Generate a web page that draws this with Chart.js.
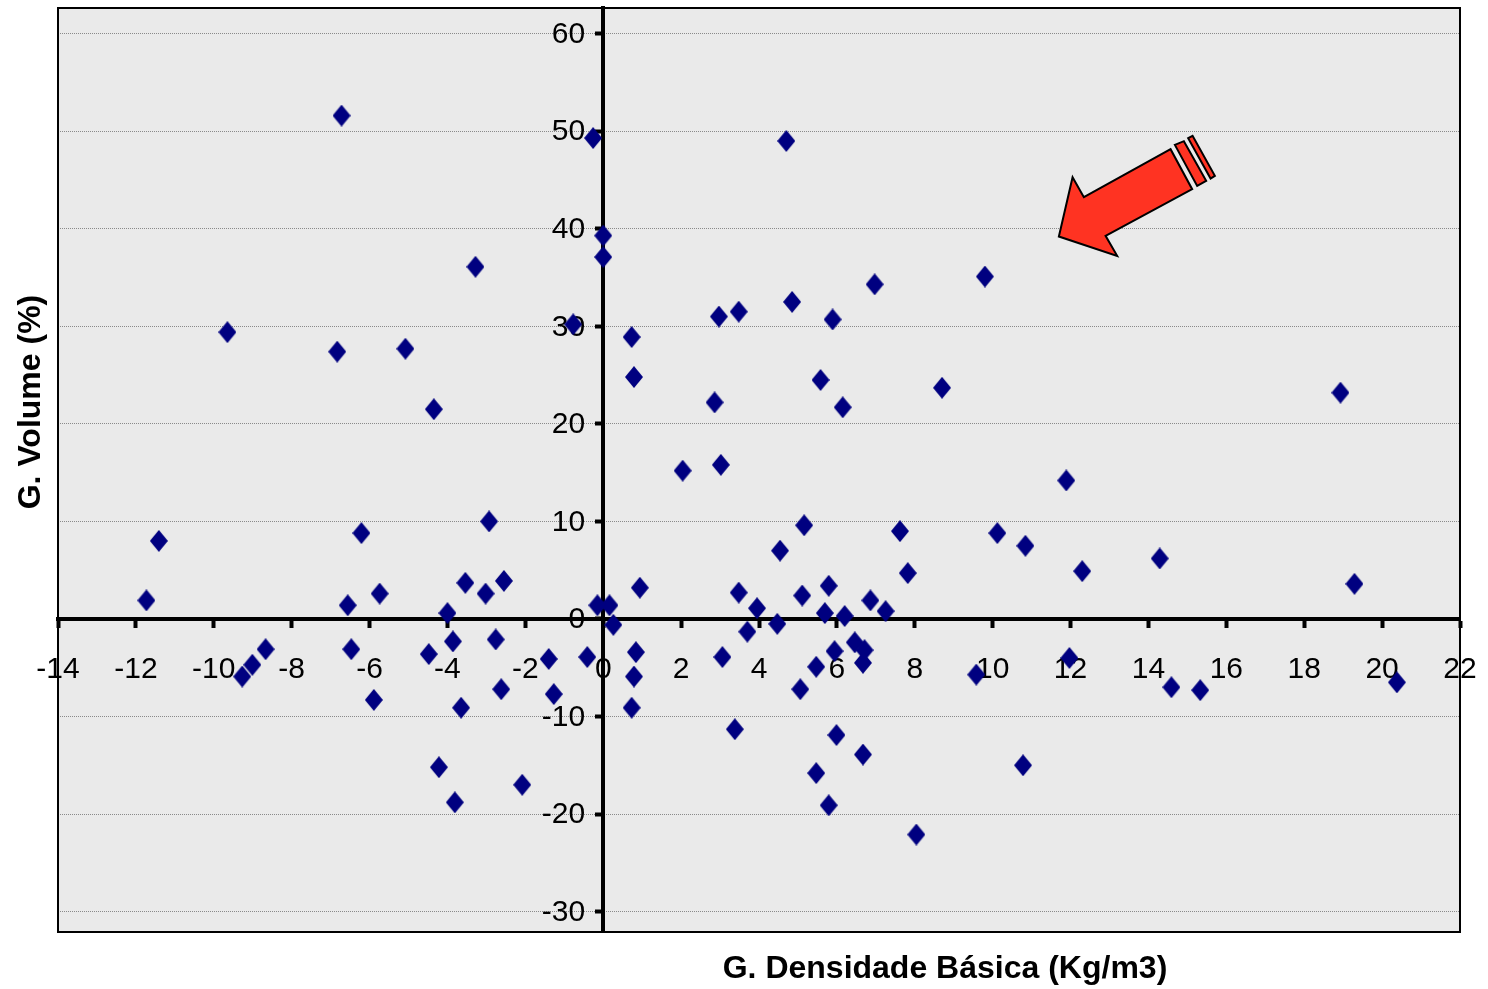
<!DOCTYPE html>
<html>
<head>
<meta charset="utf-8">
<script src="https://cdn.jsdelivr.net/npm/chart.js@4.4.1/dist/chart.umd.min.js"></script>
<style>
  html, body { margin: 0; padding: 0; background: #fff; }
  canvas { display: block; }
</style>
</head>
<body>
<canvas id="scatterChart" width="1488" height="989"></canvas>
<script>
// G. Densidade Básica (x) e G. Volume (y)
const densidade = [
  -6.72, -0.26, 4.70, 0.00, 0.00, -3.28, 9.80, 6.97, -9.65, 4.85,
  3.48, 2.97, 5.89, -0.77, 0.73, -6.83, -5.08, 0.79, 5.58, 8.70,
  18.93, 2.86, -4.35, 6.15, 2.04, 3.02, 11.89, -2.93, 5.16, 7.62,
  10.12, -6.21, 10.84, -11.41, 4.54, 14.29, 12.30, 7.82, 19.29, -3.54,
  -2.55, -5.74, -3.02, 5.79, 3.48, 5.11, -11.73, -6.56, 6.86, -4.00,
  -0.15, 0.16, 3.95, 5.69, 6.20, 7.25, 0.26, 4.47, 3.70, -3.86,
  -2.76, -6.47, -8.67, -4.48, -1.40, -0.41, 0.84, 6.46, 6.71, 3.06,
  -9.01, 5.47, 6.67, 11.97, -9.27, 0.79, 9.58, -2.62, -1.27, 5.06,
  14.59, 15.33, 20.38, -5.89, -3.65, 0.73, 3.38, 5.99, 6.67, -4.22,
  10.78, 5.47, -2.08, -3.81, 5.79, 8.04, 0.94, 5.94
];
const volume = [
  51.6, 49.3, 49.0, 39.3, 37.1, 36.1, 35.1, 34.3, 29.4, 32.5,
  31.5, 31.0, 30.7, 30.2, 28.9, 27.4, 27.7, 24.8, 24.5, 23.7,
  23.2, 22.2, 21.5, 21.7, 15.2, 15.8, 14.2, 10.0, 9.6, 9.0,
  8.8, 8.8, 7.5, 8.0, 7.0, 6.2, 4.9, 4.7, 3.6, 3.7,
  3.9, 2.6, 2.6, 3.4, 2.7, 2.4, 1.9, 1.4, 1.9, 0.6,
  1.4, 1.4, 1.1, 0.6, 0.3, 0.8, -0.6, -0.5, -1.3, -2.3,
  -2.1, -3.1, -3.1, -3.6, -4.1, -3.9, -3.4, -2.4, -3.2, -3.9,
  -4.7, -4.9, -4.5, -4.0, -5.9, -5.9, -5.7, -7.2, -7.7, -7.2,
  -7.0, -7.3, -6.5, -8.3, -9.1, -9.1, -11.3, -11.9, -13.9, -15.2,
  -15.0, -15.8, -17.0, -18.8, -19.1, -22.1, 3.2, -3.3
];

const xTicks = [-14, -12, -10, -8, -6, -4, -2, 0, 2, 4, 6, 8, 10, 12, 14, 16, 18, 20, 22];
const yTicks = [-30, -20, -10, 0, 10, 20, 30, 40, 50, 60];

const xTitle = 'G. Densidade Básica (Kg/m3)';
const yTitle = 'G. Volume (%)';
const arrowTip = [11.7, 39.2];

const fontFamily = '"Liberation Sans", Arial, sans-serif';

// marcador losango (um pouco mais alto do que largo, como no Excel)
const diamond = document.createElement('canvas');
diamond.width = 18;
diamond.height = 22;
const dctx = diamond.getContext('2d');
dctx.fillStyle = '#000080';
dctx.beginPath();
dctx.moveTo(9, 0);
dctx.lineTo(18, 11);
dctx.lineTo(9, 22);
dctx.lineTo(0, 11);
dctx.closePath();
dctx.fill();

const points = densidade.map((x, i) => ({ x: x, y: volume[i] }));

const plotArea = {
  id: 'plotArea',
  beforeDraw(chart) {
    const { ctx, chartArea: a } = chart;
    ctx.save();
    ctx.fillStyle = '#eaeaea';
    ctx.fillRect(a.left, a.top, a.right - a.left, a.bottom - a.top);
    ctx.restore();
  },
  beforeDatasetsDraw(chart) {
    // rótulos do eixo Y ao lado esquerdo do eixo vertical (x = 0)
    const { ctx, scales } = chart;
    const ax = scales.x.getPixelForValue(0);
    ctx.save();
    ctx.fillStyle = '#000';
    ctx.font = '30px ' + fontFamily;
    ctx.textAlign = 'right';
    ctx.textBaseline = 'middle';
    yTicks.forEach(v => {
      ctx.fillText(String(v), ax - 18, scales.y.getPixelForValue(v) + 1);
    });
    ctx.restore();
  },
  afterDraw(chart) {
    const { ctx, chartArea: a, scales } = chart;
    ctx.save();
    // moldura
    ctx.strokeStyle = '#000';
    ctx.lineWidth = 2;
    ctx.strokeRect(a.left, a.top, a.right - a.left, a.bottom - a.top);

    // seta vermelha
    const tx = scales.x.getPixelForValue(arrowTip[0]);
    const ty = scales.y.getPixelForValue(arrowTip[1]);
    const poly = (pts) => {
      ctx.beginPath();
      pts.forEach((p, i) => i ? ctx.lineTo(tx + p[0], ty + p[1]) : ctx.moveTo(tx + p[0], ty + p[1]));
      ctx.closePath();
      ctx.fill();
      ctx.stroke();
    };
    ctx.fillStyle = '#ff3322';
    ctx.strokeStyle = '#000';
    ctx.lineWidth = 2;
    ctx.lineJoin = 'miter';
    poly([[0, 0], [13.7, -59.4], [25, -39.4], [111.7, -87.4], [133.3, -47.4], [46.7, -0.7], [58.3, 19.3]]);
    poly([[116, -91.7], [125, -95.4], [147.3, -55.7], [138.3, -50.7]]);
    poly([[129.3, -98.4], [133.7, -100.7], [156, -60.7], [151.7, -58]]);

    // títulos dos eixos
    ctx.fillStyle = '#000';
    ctx.font = 'bold 32px ' + fontFamily;
    ctx.textAlign = 'center';
    ctx.textBaseline = 'middle';
    ctx.fillText(xTitle, 945, 969);
    ctx.translate(31, 402);
    ctx.rotate(-Math.PI / 2);
    ctx.fillText(yTitle, 0, 0);
    ctx.restore();
  }
};

new Chart(document.getElementById('scatterChart'), {
  type: 'scatter',
  data: {
    datasets: [{
      data: points,
      pointStyle: diamond,
      pointRadius: 10,
      pointHoverRadius: 10
    }]
  },
  options: {
    responsive: false,
    animation: false,
    events: [],
    layout: { autoPadding: false, padding: { left: 58, top: 8, right: 28, bottom: 57 } },
    plugins: {
      legend: { display: false },
      tooltip: { enabled: false }
    },
    scales: {
      x: {
        type: 'linear',
        position: { y: 0 },
        min: -14,
        max: 22,
        afterBuildTicks: (scale) => { scale.ticks = xTicks.map(v => ({ value: v })); },
        afterFit: (scale) => { scale.paddingLeft = 0; scale.paddingRight = 0; scale.paddingTop = 0; scale.paddingBottom = 0; },
        ticks: { color: '#000', font: { family: fontFamily, size: 30 }, padding: 26, autoSkip: false, maxRotation: 0 },
        grid: { drawOnChartArea: false, drawTicks: true, tickLength: 7, tickColor: '#000', tickWidth: 4 },
        border: { display: true, color: '#000', width: 4 }
      },
      y: {
        type: 'linear',
        position: { x: 0 },
        min: -32.09,
        max: 62.63,
        afterBuildTicks: (scale) => { scale.ticks = yTicks.map(v => ({ value: v })); },
        afterFit: (scale) => { scale.paddingLeft = 0; scale.paddingRight = 0; scale.paddingTop = 0; scale.paddingBottom = 0; },
        ticks: { display: false },
        grid: {
          color: (c) => (c.tick && c.tick.value === 0) ? 'rgba(0,0,0,0)' : '#8a8a8a',
          lineWidth: 1,
          tickLength: 6,
          tickColor: '#000',
          tickWidth: 4,
          tickBorderDash: []
        },
        border: { display: true, color: '#000', width: 4, dash: [1, 1] }
      }
    }
  },
  plugins: [plotArea]
});
</script>
</body>
</html>
